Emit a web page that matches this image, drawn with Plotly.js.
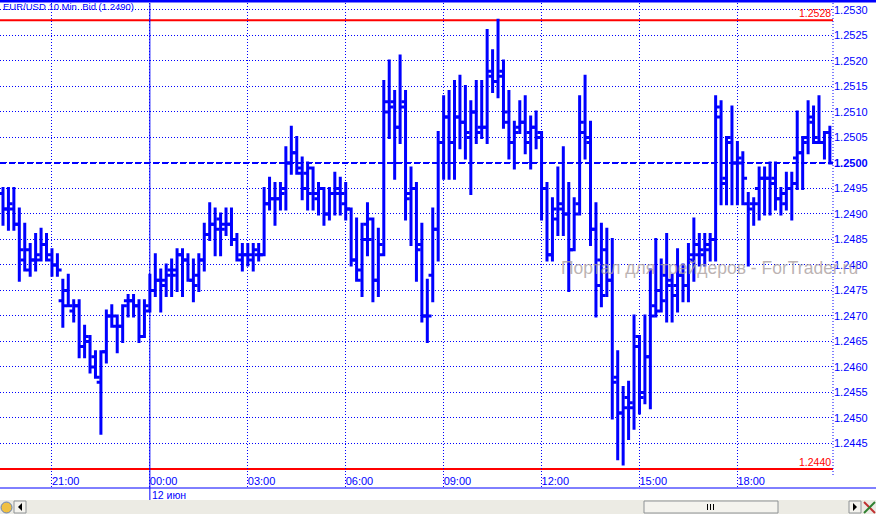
<!DOCTYPE html>
<html>
<head>
<meta charset="utf-8">
<script src="https://cdn.plot.ly/plotly-3.0.1.min.js"></script>
<style>
html,body{margin:0;padding:0;background:#fff;}
#chart{width:876px;height:514px;}
.ohlclayer path, .trace.ohlc path { stroke-linecap: square !important; }
</style>
</head>
<body>
<div id="chart"></div>
<script>
// 10-minute EUR/USD bars, first bar 11 Jun 19:30, last bar 12 Jun 20:50
const startTime = '2012-06-11T19:30:00';
const barMinutes = 10;

const openPx = [
1.2494,1.2491,1.2491,1.2488,1.2481,1.2479,1.2481,1.2481,1.2484,1.2482,
1.2480,1.2473,1.2475,1.2471,1.2472,1.2464,1.2465,1.2462,1.2457,1.2463,
1.2470,1.2468,1.2468,1.2473,1.2473,1.2472,1.2466,1.2471,1.2475,1.2477,
1.2476,1.2479,1.2479,1.2482,1.2481,1.2477,1.2478,1.2481,1.2486,1.2488,
1.2489,1.2488,1.2488,1.2485,1.2482,1.2482,1.2481,1.2482,1.2482,1.2492,
1.2493,1.2493,1.2495,1.2500,1.2502,1.2498,1.2498,1.2499,1.2493,1.2495,
1.2490,1.2494,1.2495,1.2492,1.2491,1.2481,1.2479,1.2488,1.2489,1.2477,
1.2482,1.2510,1.2512,1.2507,1.2512,1.2494,1.2495,1.2484,1.2470,1.2478,
1.2487,1.2504,1.2509,1.2504,1.2509,1.2508,1.2505,1.2510,1.2507,1.2507,
1.2517,1.2516,1.2518,1.2508,1.2504,1.2507,1.2508,1.2506,1.2507,1.2506,
1.2495,1.2482,1.2489,1.2491,1.2490,1.2483,1.2492,1.2506,1.2504,1.2487,
1.2481,1.2483,1.2477,1.2458,1.2451,1.2454,1.2452,1.2466,1.2455,1.2462,
1.2472,1.2475,1.2478,1.2477,1.2476,1.2478,1.2476,1.2482,1.2482,1.2482,
1.2484,1.2485,1.2509,1.2497,1.2504,1.2500,1.2500,1.2492,1.2492,1.2495,
1.2497,1.2497,1.2497,1.2493,1.2492,1.2495,1.2501,1.2502,1.2505,1.2508,
1.2504,1.2504,1.2506];
const highPx = [
1.2495,1.2495,1.2495,1.2491,1.2488,1.2484,1.2486,1.2487,1.2486,1.2483,
1.2482,1.2477,1.2478,1.2473,1.2473,1.2468,1.2466,1.2463,1.2463,1.2471,
1.2472,1.2470,1.2472,1.2474,1.2474,1.2473,1.2473,1.2478,1.2482,1.2479,
1.2480,1.2481,1.2483,1.2483,1.2482,1.2481,1.2482,1.2488,1.2492,1.2491,
1.2490,1.2491,1.2491,1.2486,1.2484,1.2484,1.2484,1.2484,1.2495,1.2497,
1.2496,1.2496,1.2503,1.2507,1.2505,1.2501,1.2500,1.2499,1.2496,1.2495,
1.2495,1.2498,1.2497,1.2496,1.2491,1.2489,1.2488,1.2492,1.2489,1.2487,
1.2516,1.2520,1.2514,1.2521,1.2514,1.2499,1.2496,1.2488,1.2477,1.2491,
1.2506,1.2513,1.2514,1.2516,1.2517,1.2515,1.2512,1.2516,1.2516,1.2526,
1.2522,1.2528,1.2520,1.2514,1.2508,1.2512,1.2513,1.2509,1.2510,1.2506,
1.2496,1.2493,1.2499,1.2503,1.2496,1.2493,1.2513,1.2517,1.2508,1.2492,
1.2488,1.2487,1.2485,1.2463,1.2456,1.2457,1.2470,1.2466,1.2470,1.2479,
1.2485,1.2481,1.2486,1.2478,1.2483,1.2480,1.2484,1.2489,1.2486,1.2486,
1.2486,1.2513,1.2512,1.2505,1.2511,1.2504,1.2502,1.2494,1.2493,1.2499,
1.2499,1.2500,1.2500,1.2495,1.2498,1.2498,1.2510,1.2505,1.2512,1.2511,
1.2513,1.2506,1.2507];
const lowPx = [
1.2488,1.2487,1.2487,1.2477,1.2479,1.2478,1.2479,1.2481,1.2481,1.2478,
1.2478,1.2468,1.2472,1.2469,1.2462,1.2462,1.2459,1.2458,1.2447,1.2461,
1.2468,1.2463,1.2465,1.2470,1.2470,1.2465,1.2466,1.2471,1.2474,1.2471,
1.2474,1.2474,1.2475,1.2474,1.2477,1.2473,1.2475,1.2479,1.2485,1.2482,
1.2482,1.2486,1.2484,1.2481,1.2479,1.2480,1.2479,1.2481,1.2482,1.2491,
1.2488,1.2491,1.2491,1.2498,1.2498,1.2493,1.2491,1.2491,1.2490,1.2488,
1.2489,1.2490,1.2490,1.2489,1.2480,1.2477,1.2474,1.2482,1.2473,1.2474,
1.2482,1.2505,1.2497,1.2504,1.2489,1.2484,1.2477,1.2469,1.2465,1.2473,
1.2481,1.2497,1.2497,1.2497,1.2503,1.2501,1.2494,1.2504,1.2505,1.2504,
1.2514,1.2513,1.2507,1.2501,1.2499,1.2506,1.2502,1.2499,1.2503,1.2489,
1.2481,1.2481,1.2486,1.2486,1.2475,1.2483,1.2490,1.2501,1.2484,1.2470,
1.2472,1.2474,1.2450,1.2442,1.2441,1.2446,1.2448,1.2451,1.2453,1.2452,
1.2470,1.2471,1.2469,1.2469,1.2471,1.2473,1.2473,1.2477,1.2480,1.2480,
1.2481,1.2481,1.2492,1.2492,1.2492,1.2492,1.2492,1.2480,1.2488,1.2489,
1.2490,1.2490,1.2491,1.2490,1.2491,1.2489,1.2495,1.2495,1.2502,1.2504,
1.2504,1.2501,1.2500];
const closePx = [
1.2491,1.2492,1.2488,1.2483,1.2483,1.2481,1.2482,1.2484,1.2481,1.2480,
1.2479,1.2472,1.2472,1.2472,1.2464,1.2466,1.2460,1.2458,1.2463,1.2470,
1.2470,1.2468,1.2472,1.2473,1.2472,1.2466,1.2472,1.2475,1.2477,1.2477,
1.2478,1.2478,1.2482,1.2481,1.2477,1.2476,1.2481,1.2486,1.2488,1.2487,
1.2487,1.2488,1.2485,1.2481,1.2482,1.2482,1.2483,1.2482,1.2492,1.2493,
1.2493,1.2494,1.2500,1.2502,1.2499,1.2495,1.2494,1.2494,1.2495,1.2490,
1.2494,1.2494,1.2494,1.2491,1.2481,1.2477,1.2485,1.2485,1.2477,1.2484,
1.2512,1.2511,1.2507,1.2511,1.2493,1.2495,1.2483,1.2470,1.2470,1.2487,
1.2504,1.2509,1.2504,1.2509,1.2508,1.2506,1.2510,1.2506,1.2507,1.2518,
1.2516,1.2517,1.2510,1.2504,1.2506,1.2508,1.2504,1.2507,1.2505,1.2495,
1.2482,1.2491,1.2492,1.2490,1.2483,1.2490,1.2508,1.2505,1.2487,1.2476,
1.2474,1.2477,1.2457,1.2451,1.2452,1.2453,1.2464,1.2454,1.2462,1.2470,
1.2471,1.2473,1.2476,1.2474,1.2478,1.2476,1.2481,1.2484,1.2483,1.2483,
1.2485,1.2511,1.2496,1.2505,1.2500,1.2501,1.2497,1.2491,1.2492,1.2497,
1.2497,1.2496,1.2493,1.2494,1.2495,1.2496,1.2502,1.2504,1.2509,1.2505,
1.2504,1.2506,1.2500];

const priceTicks = [1.2445,1.2450,1.2455,1.2460,1.2465,1.2470,1.2475,1.2480,1.2485,1.2490,
  1.2495,1.2500,1.2505,1.2510,1.2515,1.2520,1.2525,1.2530];
const priceTickText = priceTicks.map(v => v === 1.25 ? '<b>1.2500</b>' : v.toFixed(4));
const levelHigh = 1.2528, levelLow = 1.2440, lastPrice = 1.2500;
const titleText = 'EUR/USD 10 Min. Bid (1.2490)';
const dayLabel = '12 июн';
const watermark = 'Портал для трейдеров - ForTrader.ru';

function fmt(d){
  const p = n => String(n).padStart(2,'0');
  return d.getFullYear()+'-'+p(d.getMonth()+1)+'-'+p(d.getDate())+' '+p(d.getHours())+':'+p(d.getMinutes());
}
const t0 = new Date(startTime);
const times = openPx.map((_, i) => fmt(new Date(t0.getTime() + i*barMinutes*60000)));

const BLUE = '#0000ff';
const FONT = '"Liberation Sans", Arial, sans-serif';
// pixel helpers for decoration (plot area: x 0..833, y 3..488)
const PW = 833, PT = 3, PB = 488, PH = PB - PT;
const px = v => v / PW;
const py = v => (PB - v) / PH;

const trace = {
  type: 'ohlc', x: times, open: openPx, high: highPx, low: lowPx, close: closePx,
  increasing: {line: {color: BLUE, width: 3}},
  decreasing: {line: {color: BLUE, width: 3}},
  tickwidth: 0.5, hoverinfo: 'skip', showlegend: false
};

const shapes = [
  {type:'line', xref:'paper', yref:'paper', x0:0, x1:px(876), y0:py(1), y1:py(1), line:{color:BLUE, width:3}},
  {type:'line', xref:'paper', yref:'paper', x0:0, x1:px(876), y0:py(488), y1:py(488), line:{color:BLUE, width:1}},
  {type:'line', xref:'paper', yref:'paper', x0:1, x1:1, y0:py(475), y1:1, line:{color:BLUE, width:1, dash:'1px,2px'}},
  {type:'line', xref:'x', yref:'paper', x0:'2012-06-12 00:00', x1:'2012-06-12 00:00', y0:py(500), y1:1, line:{color:BLUE, width:1}},
  {type:'line', xref:'paper', yref:'y', x0:0, x1:1, y0:levelHigh, y1:levelHigh, line:{color:'#ff0000', width:2}, layer:'between'},
  {type:'line', xref:'paper', yref:'y', x0:0, x1:1, y0:levelLow, y1:levelLow, line:{color:'#ff0000', width:2}, layer:'between'},
  {type:'line', xref:'paper', yref:'y', x0:0, x1:1, y0:lastPrice, y1:lastPrice, line:{color:BLUE, width:2, dash:'6px,3px'}, layer:'between'},
  {type:'rect', xref:'paper', yref:'paper', x0:0, x1:px(876), y0:py(514), y1:py(500), fillcolor:'#ecebe4', line:{width:0}},
  {type:'rect', xref:'paper', yref:'paper', x0:px(644), x1:px(778), y0:py(513), y1:py(501), fillcolor:'#f4f3ee', line:{color:'#8e9295', width:1}},
  {type:'rect', xref:'paper', yref:'paper', x0:px(14), x1:px(26), y0:py(513), y1:py(501), fillcolor:'#f4f3ee', line:{color:'#8e9295', width:1}},
  {type:'rect', xref:'paper', yref:'paper', x0:px(849), x1:px(861), y0:py(513), y1:py(501), fillcolor:'#f4f3ee', line:{color:'#8e9295', width:1}},
  {type:'path', xref:'paper', yref:'paper', path:`M ${px(22)} ${py(503)} L ${px(18)} ${py(507)} L ${px(22)} ${py(511)} Z`, fillcolor:'#000', line:{width:0}},
  {type:'path', xref:'paper', yref:'paper', path:`M ${px(853)} ${py(503)} L ${px(857)} ${py(507)} L ${px(853)} ${py(511)} Z`, fillcolor:'#000', line:{width:0}},
  {type:'rect', xref:'paper', yref:'paper', x0:px(707), x1:px(708), y0:py(510), y1:py(504), fillcolor:'#000', line:{width:0}},
  {type:'rect', xref:'paper', yref:'paper', x0:px(710), x1:px(711), y0:py(510), y1:py(504), fillcolor:'#000', line:{width:0}},
  {type:'rect', xref:'paper', yref:'paper', x0:px(713), x1:px(714), y0:py(510), y1:py(504), fillcolor:'#000', line:{width:0}},
  {type:'circle', xref:'paper', yref:'paper', x0:px(1), x1:px(12), y0:py(513), y1:py(502), fillcolor:'#f0c040', line:{color:'#6080c0', width:1}},
  {type:'line', xref:'paper', yref:'paper', x0:px(864), x1:px(875), y0:py(502), y1:py(513), line:{color:'#c03030', width:2}},
  {type:'line', xref:'paper', yref:'paper', x0:px(864), x1:px(875), y0:py(513), y1:py(502), line:{color:'#308030', width:2}}
];

const annotations = [
  {xref:'paper', yref:'paper', x:px(1), y:py(7), xanchor:'left', yanchor:'middle', text:titleText, showarrow:false,
   font:{family:FONT, size:9.5, color:BLUE}},
  {xref:'paper', yref:'y', x:px(832), y:levelHigh, xanchor:'right', yanchor:'bottom', text:levelHigh.toFixed(4), showarrow:false,
   font:{family:FONT, size:10.5, color:'#ff0000'}, borderpad:0},
  {xref:'paper', yref:'y', x:px(832), y:levelLow, xanchor:'right', yanchor:'bottom', text:levelLow.toFixed(4), showarrow:false,
   font:{family:FONT, size:10.5, color:'#ff0000'}, borderpad:0},
  {xref:'x', yref:'paper', x:'2012-06-12 00:00', y:py(495), xanchor:'left', yanchor:'middle', text:dayLabel, showarrow:false,
   font:{family:FONT, size:10.5, color:BLUE}},
  {xref:'paper', yref:'paper', x:px(559), y:py(268), xanchor:'left', yanchor:'middle', text:watermark, showarrow:false,
   font:{family:FONT, size:17.5, color:'rgba(170,158,158,0.8)'}}
];

const layout = {
  width: 876, height: 514,
  margin: {l:0, r:876-PW, t:PT, b:514-PB, pad:0},
  paper_bgcolor:'#ffffff', plot_bgcolor:'#ffffff',
  showlegend:false,
  font:{family:FONT, size:10, color:BLUE},
  xaxis: {
    type:'date', range:['2012-06-11 19:24:30','2012-06-12 20:55:45'],
    tick0:'2012-06-11 21:00', dtick:3*3600*1000, tickformat:'%H:%M',
    ticks:'', ticklabelposition:'inside right', ticklabelstandoff:-5,
    tickfont:{family:FONT, size:11, color:BLUE},
    showgrid:true, gridcolor:BLUE, gridwidth:1, griddash:'1px,2px',
    zeroline:false, showline:false, rangeslider:{visible:false}, fixedrange:true
  },
  yaxis: {
    side:'right', range:[1.243627, 1.253137], tickmode:'array', tickvals:priceTicks, ticktext:priceTickText,
    ticks:'', tickfont:{family:FONT, size:11, color:BLUE},
    showgrid:true, gridcolor:BLUE, gridwidth:1, griddash:'1px,2px',
    zeroline:false, showline:false, fixedrange:true
  },
  shapes: shapes,
  annotations: annotations
};

Plotly.newPlot('chart', [trace], layout, {staticPlot:true, displayModeBar:false});
</script>
</body>
</html>
